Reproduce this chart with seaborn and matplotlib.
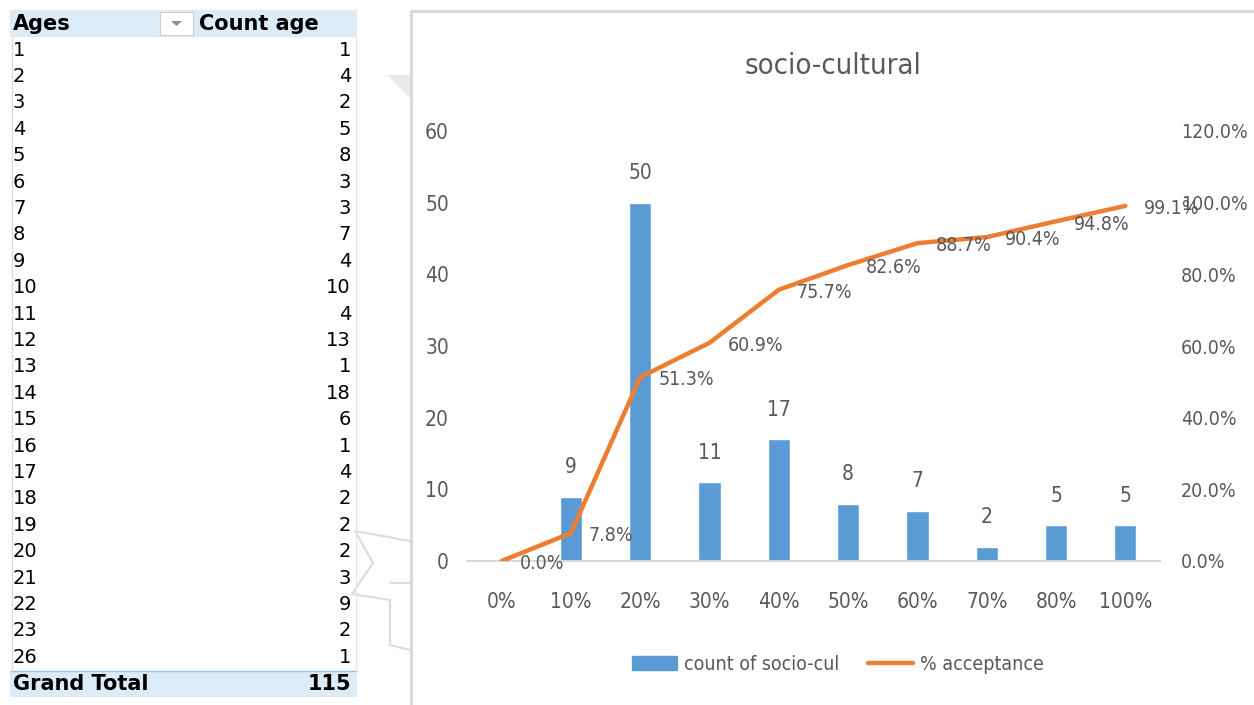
"""Pivot table of ages next to an Excel-style combo chart (socio-cultural)."""
import numpy as np
import matplotlib
matplotlib.use("Agg")
import matplotlib.pyplot as plt
from matplotlib import font_manager as fm
from matplotlib.patches import Rectangle, Polygon
from matplotlib.lines import Line2D
from matplotlib.ticker import FuncFormatter
import seaborn as sns

# pivot table
AGES = [1, 2, 3, 4, 5, 6, 7, 8, 9, 10, 11, 12, 13, 14, 15, 16, 17, 18, 19, 20, 21, 22, 23, 26]
AGE_COUNTS = [1, 4, 2, 5, 8, 3, 3, 7, 4, 10, 4, 13, 1, 18, 6, 1, 4, 2, 2, 2, 3, 9, 2, 1]

# chart
LEVELS = ["0%", "10%", "20%", "30%", "40%", "50%", "60%", "70%", "80%", "100%"]
COUNTS = [0, 9, 50, 11, 17, 8, 7, 2, 5, 5]
ACCEPT = [0.0, 7.8, 51.3, 60.9, 75.7, 82.6, 88.7, 90.4, 94.8, 99.1]

BLUE = "#5B9BD5"
ORANGE = "#ED7D31"
GREY_TXT = "#595959"
HDR_BG = "#DDEBF7"
TABLE_FONT = ["DejaVu Sans"]

W, H = 1254, 705


def pick_chart_font():
    # the Excel chart text is tall and narrow; use a condensed face when one exists
    names = {f.name for f in fm.fontManager.ttflist}
    if "Liberation Sans Narrow" in names:
        return ["Liberation Sans Narrow", "DejaVu Sans"], "normal", 15
    if any(f.name == "DejaVu Sans" and "condensed" in str(f.stretch).lower()
           for f in fm.fontManager.ttflist):
        return ["DejaVu Sans"], "condensed", 14
    return ["Liberation Sans", "DejaVu Sans"], "normal", 14


def tbl_text(bg, x, y, s, ha="left", bold=False, size=14):
    bg.text(x, y, s, fontsize=size, fontweight="bold" if bold else "normal",
            family=TABLE_FONT, fontstretch="normal", va="center", ha=ha,
            color="black", zorder=3)


def draw_table(bg):
    # header
    bg.add_patch(Rectangle((10, 10), 347, 27, color=HDR_BG, lw=0, zorder=1))
    tbl_text(bg, 13, 24, "Ages", bold=True, size=15)
    tbl_text(bg, 199, 24, "Count age", bold=True, size=15)
    # filter dropdown button
    bg.add_patch(Rectangle((160, 12), 33, 23, facecolor="white", edgecolor="#D0D0D0",
                           lw=0.8, zorder=2))
    bg.add_patch(Polygon([(171, 21), (182, 21), (176.5, 26)], closed=True,
                         color="#8C8C8C", lw=0, zorder=3))
    # rows
    row_h = 26.4
    for i, (a, c) in enumerate(zip(AGES, AGE_COUNTS)):
        y = 50 + i * row_h
        tbl_text(bg, 13, y, str(a))
        tbl_text(bg, 351, y, str(c), ha="right")
    # grand total
    bg.add_patch(Rectangle((10, 671), 347, 26, color=HDR_BG, lw=0, zorder=1))
    bg.plot([10, 357], [671, 671], color="#9BC2E6", lw=1, zorder=2)
    tbl_text(bg, 13, 684, "Grand Total", bold=True, size=15)
    tbl_text(bg, 351, 684, str(sum(AGE_COUNTS)), ha="right", bold=True, size=15)
    # side borders
    bg.plot([11.5, 11.5], [37, 671], color="#DADADA", lw=0.8, zorder=2)
    bg.plot([356, 356], [37, 671], color="#E6E6E6", lw=0.8, zorder=2)


def draw_decor(bg):
    # chart frame
    bg.plot([411, 411, W], [H, 11, 11], color="#D9D9D9", lw=2.2, zorder=2)
    # stray shapes behind the chart
    bg.add_patch(Polygon([(387, 75), (410, 75), (410, 98)], closed=True,
                         color="#E9E9E9", lw=0, zorder=1))
    bg.plot([410, 355, 373, 352, 390, 390, 410], [541, 531, 563, 594, 600, 645, 650],
            color="#DEDEDE", lw=1.6, zorder=1)
    bg.plot([390, 410], [583, 583], color="#DEDEDE", lw=1.6, zorder=1)


def main():
    sns.set_theme(style="white")
    family, stretch, fs = pick_chart_font()
    plt.rcParams["font.family"] = family
    plt.rcParams["font.stretch"] = stretch

    fig = plt.figure(figsize=(W / 100, H / 100), dpi=100)
    bg = fig.add_axes([0, 0, 1, 1])
    bg.set_xlim(0, W)
    bg.set_ylim(H, 0)
    bg.axis("off")
    draw_table(bg)
    draw_decor(bg)

    ax = fig.add_axes([467 / W, (H - 561) / H, 693 / W, 430 / H])
    ax.set_facecolor("none")
    sns.barplot(x=LEVELS, y=COUNTS, color=BLUE, saturation=1, width=0.32,
                ax=ax, zorder=2)
    ax.set_xlim(-0.5, len(LEVELS) - 0.5)
    ax.set_ylim(0, 60)
    ax.set_yticks(range(0, 61, 10))
    for s in ["top", "right", "left"]:
        ax.spines[s].set_visible(False)
    ax.spines["bottom"].set_color("#D9D9D9")
    ax.spines["bottom"].set_linewidth(1.5)
    ax.tick_params(axis="both", length=0, labelsize=fs + 1, colors=GREY_TXT)
    ax.tick_params(axis="y", pad=13)
    ax.tick_params(axis="x", pad=22)
    ax.set_xlabel("")
    ax.set_ylabel("")
    ax.bar_label(ax.containers[0], labels=["" if v == 0 else str(v) for v in COUNTS],
                 padding=14, fontsize=fs + 1, color=GREY_TXT)

    ax2 = ax.twinx()
    ax2.patch.set_visible(False)
    sns.lineplot(x=LEVELS, y=ACCEPT, color=ORANGE, linewidth=3.2, ax=ax2,
                 zorder=3, solid_capstyle="round")
    ax2.set_ylim(0, 120)
    ax2.set_yticks(range(0, 121, 20))
    ax2.yaxis.set_major_formatter(FuncFormatter(lambda v, _: f"{v:.1f}%"))
    for s in ax2.spines.values():
        s.set_visible(False)
    ax2.tick_params(axis="y", length=0, labelsize=fs, colors=GREY_TXT, pad=15)
    ax2.set_ylabel("")
    for i, v in enumerate(ACCEPT):
        ax2.annotate(f"{v:.1f}%", (i, v), xytext=(13, -2), textcoords="offset points",
                     ha="left", va="center", fontsize=fs, color=GREY_TXT)

    fig.text(833 / W, 1 - 66 / H, "socio-cultural", ha="center", va="center",
             fontsize=fs + 7, color=GREY_TXT)

    handles = [Rectangle((0, 0), 1, 1, color=BLUE),
               Line2D([0], [0], color=ORANGE, lw=3.2)]
    fig.legend(handles, ["count of socio-cul", "% acceptance"], loc="center",
               bbox_to_anchor=(838 / W, 1 - 664 / H), ncol=2, frameon=False,
               fontsize=fs, labelcolor=GREY_TXT, handlelength=2.3,
               handletextpad=0.35, columnspacing=1.5)

    fig.savefig("out.png", dpi=100)
    plt.close(fig)


if __name__ == "__main__":
    main()
